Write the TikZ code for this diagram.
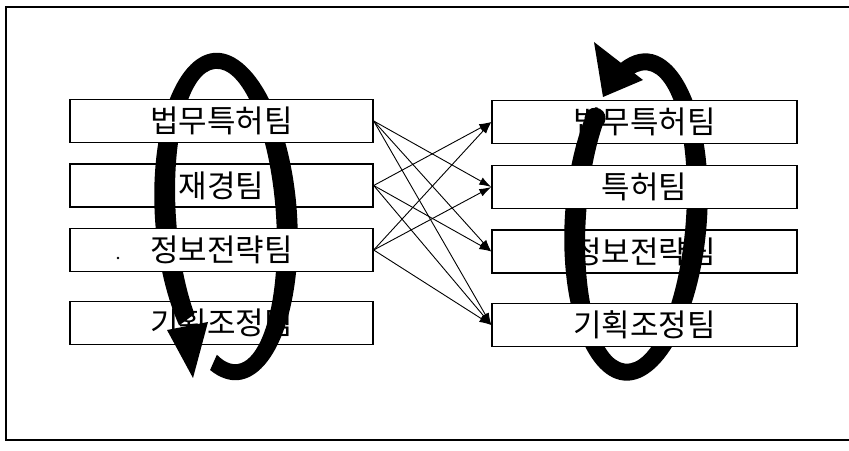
\documentclass[tikz,border=0pt]{standalone}
\usepackage{fontspec}
\newfontfamily\kr{Noto Sans CJK KR}
\usetikzlibrary{arrows.meta}

\begin{document}
\begin{tikzpicture}[x=1pt,y=1pt,
  team/.style={draw=black, line width=1.4pt, fill=white, minimum height=43pt,
    inner sep=0pt, font=\kr\fontsize{31}{31}\selectfont},
  lteam/.style={team, minimum width=303pt},
  rteam/.style={team, minimum width=305pt},
  link/.style={line width=0.9pt, -{Latex[length=12pt,width=8pt]}},
  frame/.style={line width=1.6pt},
  ring/.style={fill=black}
]
\useasboundingbox (0,0) rectangle (849,450);

% outer frame (open to the right)
\coordinate (ftr) at (849,443);
\coordinate (ftl) at (6,443);
\coordinate (fbl) at (6,10);
\coordinate (fbr) at (849,10);
\draw[frame] (ftr) -- (ftl) -- (fbl) -- (fbr);

% ---- left column: rows 2 and 4 lie under the ring ----
\node[lteam] (L2) at (221.5,264.5) {재경팀};
\node[lteam] (L4) at (221.5,127) {기획조정팀};

% left ring
\begin{scope}[shift={(226,233.5)}, rotate=4]
  \fill[ring] (248:71 and 164) arc[start angle=248, end angle=580, x radius=71, y radius=164]
    -- (580:50 and 148) arc[start angle=580, end angle=248, x radius=50, y radius=148] -- cycle;
\end{scope}
\coordinate (lh1) at (167,120);
\coordinate (lh2) at (208,128);
\coordinate (lht) at (193,72);
\fill[ring] (lh1) -- (lht) -- (lh2) -- cycle;

% rows 1 and 3 lie over the ring
\node[lteam] (L1) at (221.5,329) {법무특허팀};
\node[lteam] (L3) at (221.5,200) {정보전략팀};
\fill (118,192) circle (1.3);

% ---- right column ----
\node[rteam] (R3) at (644.5,198.5) {정보전략팀};

% right ring
\begin{scope}[shift={(636,233)}, rotate=-4]
  \fill[ring] (142:71 and 164) arc[start angle=142, end angle=472, x radius=71, y radius=164]
    -- (472:50 and 147) arc[start angle=472, end angle=142, x radius=50, y radius=147] -- cycle;
\end{scope}
\coordinate (rh1) at (594,408);
\coordinate (rh2) at (643,370);
\coordinate (rht) at (603,353);
\fill[ring] (rh1) -- (rht) -- (rh2) -- cycle;

\node[rteam] (R1) at (644.5,328) {법무특허팀};
\node[rteam] (R2) at (644.5,263) {특허팀};
\node[rteam] (R4) at (644.5,125) {기획조정팀};

% tail of the right ring, lying over the first box
\begin{scope}
  \clip (R1.south west) rectangle (620,350);
  \begin{scope}[shift={(636,233)}, rotate=-4]
    \fill[ring] (142:71 and 164) arc[start angle=142, end angle=200, x radius=71, y radius=164]
      -- (200:50 and 147) arc[start angle=200, end angle=142, x radius=50, y radius=147] -- cycle;
    \fill[ring] (142:60.5 and 155.5) circle (10.5);
  \end{scope}
\end{scope}

% links between the two columns
\foreach \a/\b in {L1/R2, L1/R3, L1/R4, L2/R1, L2/R3, L2/R4, L3/R1, L3/R2, L3/R4}
  \draw[link] (\a.east) -- (\b.west);
\end{tikzpicture}
\end{document}
